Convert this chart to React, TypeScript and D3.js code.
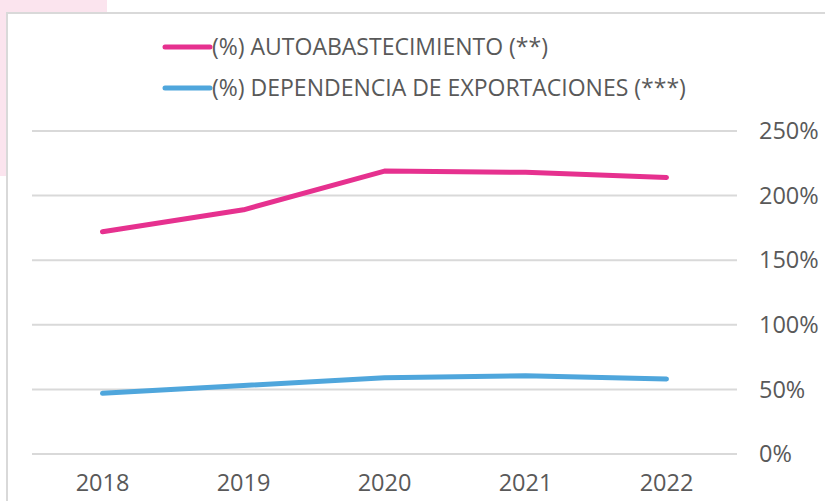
import React from 'react';
import * as d3 from 'd3';

// data
const years = ['2018', '2019', '2020', '2021', '2022'];
const autoabastecimiento = [1.72, 1.89, 2.19, 2.18, 2.14];
const dependencia = [0.47, 0.53, 0.59, 0.605, 0.58];
const seriesNames = ['(%) AUTOABASTECIMIENTO (**)', '(%) DEPENDENCIA DE EXPORTACIONES (***)'];
const seriesColors = ['#E6318F', '#4FA6DC'];
const yTicks = [0, 0.5, 1, 1.5, 2, 2.5];

const FONT = '"Open Sans", sans-serif';

export default function App() {
    const w = 825,
        h = 501;

    // plot area
    const x = d3.scaleBand().domain(years).range([32, 737]);
    const y = d3.scaleLinear().domain([0, 2.5]).range([454, 131]);
    const cx = (d: string) => (x(d) as number) + x.bandwidth() / 2;

    const line = d3.line<number>()
        .x((d, i) => cx(years[i]))
        .y(d => y(d));

    const series = [autoabastecimiento, dependencia];

    return (
        <svg width={w} height={h} style={{ position: 'absolute', left: 0, top: 0 }} fontFamily={FONT}>
            <rect x={0} y={0} width={w} height={h} fill="#fff" />
            {/* pink decoration behind the frame */}
            <rect x={0} y={0} width={107} height={176} fill="#FBE4EE" />
            <rect x={7} y={13} width={w + 20} height={h + 20} fill="#fff" stroke="#D9D9D9" strokeWidth={2} />

            {/* grid and y labels */}
            {yTicks.map(t => (
                <g key={t}>
                    <line x1={32} x2={737} y1={y(t)} y2={y(t)} stroke="#D9D9D9" strokeWidth={2} />
                    <text x={759} y={y(t)} dy="0.35em" fontSize={23.5} fill="#595959">
                        {d3.format('.0%')(t)}
                    </text>
                </g>
            ))}

            {/* x labels */}
            {years.map(d => (
                <text key={d} x={cx(d)} y={483} dy="0.35em" textAnchor="middle" fontSize={23.5} fill="#595959">
                    {d}
                </text>
            ))}

            {/* lines */}
            {series.map((s, i) => (
                <path key={i} d={line(s) as string} fill="none" stroke={seriesColors[i]}
                    strokeWidth={5} strokeLinecap="round" strokeLinejoin="round" />
            ))}

            {/* legend */}
            {seriesNames.map((n, i) => (
                <g key={n} transform={`translate(165,${47 + i * 41})`}>
                    <line x1={0} x2={45} y1={0} y2={0} stroke={seriesColors[i]} strokeWidth={5} strokeLinecap="round" />
                    <text x={47} y={0} dy="0.35em" fontSize={23} fill="#595959">{n}</text>
                </g>
            ))}
        </svg>
    );
}
